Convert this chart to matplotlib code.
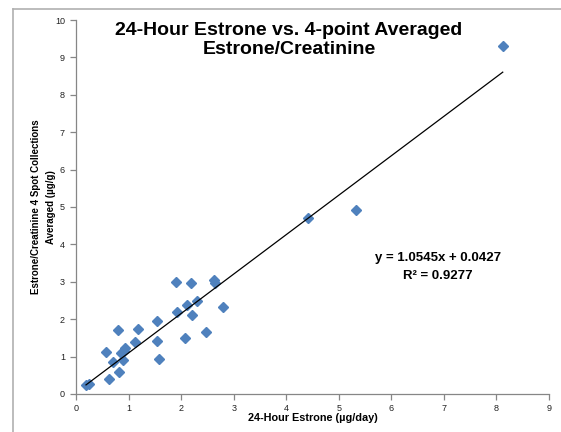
import matplotlib
matplotlib.use("Agg")
import matplotlib.pyplot as plt
from matplotlib.lines import Line2D
import numpy as np

plt.rcParams['font.family'] = ['Liberation Sans', 'DejaVu Sans']

x_vals = [0.19, 0.25, 0.63, 0.81, 0.58, 0.70, 0.89, 0.85, 0.91, 0.94,
          0.80, 1.13, 1.17, 1.55, 1.55, 1.58, 1.90, 1.93, 2.07, 2.12,
          2.19, 2.21, 2.31, 2.47, 2.62, 2.64, 2.80, 4.42, 5.33, 8.12]
y_vals = [0.24, 0.28, 0.40, 0.60, 1.13, 0.86, 0.91, 1.09, 1.15, 1.24,
          1.72, 1.38, 1.74, 1.94, 1.43, 0.93, 3.00, 2.20, 1.50, 2.39,
          2.97, 2.12, 2.49, 1.65, 3.05, 2.98, 2.32, 4.71, 4.92, 9.30]
slope = 1.0545
intercept = 0.0427
r2 = 0.9277

fig = plt.figure(figsize=(5.61, 4.32), dpi=100)
ax = fig.add_axes([0.1355, 0.088, 0.8431, 0.8657])

ax.plot(x_vals, y_vals, linestyle='none', marker='D', markersize=5.5,
        color='#4F81BD', markeredgecolor='#4F81BD', zorder=3)
xs = np.array([min(x_vals), max(x_vals)])
ax.plot(xs, slope * xs + intercept, color='black', linewidth=0.9, zorder=4)

ax.set_xlim(0, 9)
ax.set_ylim(0, 10)
ax.set_xticks(range(0, 10))
ax.set_yticks(range(0, 11))
for s in ['top', 'right']:
    ax.spines[s].set_visible(False)
for s in ['left', 'bottom']:
    ax.spines[s].set_color('#868686')
    ax.spines[s].set_linewidth(0.9)
ax.tick_params(axis='both', direction='out', length=4, width=0.9,
               color='#868686', labelsize=6.5, labelcolor='#222222')
ax.tick_params(axis='y', pad=4)
ax.tick_params(axis='x', pad=3)

ax.set_xlabel('24-Hour Estrone (\u00b5g/day)', fontsize=7.8, fontweight='bold', labelpad=0.5)
ax.set_ylabel('Estrone/Creatinine 4 Spot Collections\nAveraged (\u00b5g/g)',
              fontsize=7, fontweight='bold', labelpad=-0.5, linespacing=1.55)

fig.text(0.515, 0.907, '24-Hour Estrone vs. 4-point Averaged\nEstrone/Creatinine',
         ha='center', va='center', fontsize=14, fontweight='bold', linespacing=1.2)

ax.text(6.88, 3.64, 'y = 1.0545x + 0.0427', ha='center', va='center',
        fontsize=9.5, fontweight='bold')
ax.text(6.88, 3.16, 'R\u00b2 = 0.9277', ha='center', va='center',
        fontsize=9.5, fontweight='bold')

# outer chart border (top and left visible)
fig.add_artist(Line2D([13/561, 1.0], [1 - 9/432, 1 - 9/432], color='#B0B0B0',
                      linewidth=1.2, transform=fig.transFigure))
fig.add_artist(Line2D([13/561, 13/561], [0, 1 - 9/432], color='#B0B0B0',
                      linewidth=1.2, transform=fig.transFigure))

fig.savefig('out.png', dpi=100)
